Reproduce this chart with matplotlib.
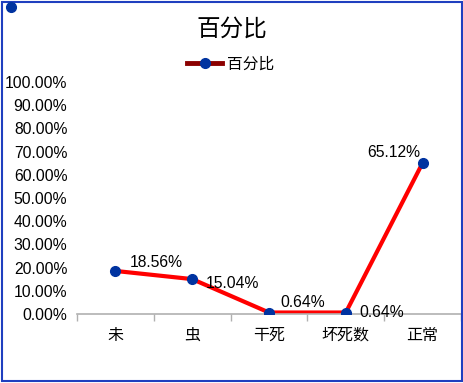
import matplotlib.pyplot as plt
from matplotlib.patches import Rectangle
from matplotlib.lines import Line2D

plt.rcParams['font.family'] = ['Liberation Sans', 'Noto Sans CJK SC', 'DejaVu Sans']

# data
categories = ['未', '虫', '干死', '坏死数', '正常']
values = [18.56, 15.04, 0.64, 0.64, 65.12]
labels = ['18.56%', '15.04%', '0.64%', '0.64%', '65.12%']
series_name = '百分比'

# label offsets in points (dx, dy, ha)
offsets = [(10, 0.5, 'left'), (10, -3, 'left'), (8, 2, 'left'), (10, 0, 'left'), (-2, 2, 'right')]

fig = plt.figure(figsize=(4.64, 3.83), dpi=100)
ax = fig.add_axes([77 / 464, 1 - 314 / 383, 384 / 464, 232 / 383])

x = range(len(categories))
ax.plot(x, values, color='#ff0000', lw=3, zorder=2)
ax.plot(x, values, ls='none', marker='o', ms=7, color='#0033a0', zorder=3)

# legend proxy: dark red line with blue marker
ax.plot([], [], color='#8b0000', lw=3.5, marker='o', ms=7, mfc='#0033a0', mec='#0033a0',
        label=series_name)
ax.legend(loc='upper center', bbox_to_anchor=(0.40, 1.17), frameon=False,
          fontsize=11.3, handlelength=2.2, handletextpad=0.3)

for i, v in enumerate(values):
    dx, dy, ha = offsets[i]
    ax.annotate(labels[i], (i, v), xytext=(dx, dy), textcoords='offset points',
                ha=ha, va='bottom' if dy > 0 else 'center', fontsize=11.3)

ax.set_xlim(-0.5, len(categories) - 0.5)
ax.set_ylim(0, 100)
ax.set_yticks(range(0, 101, 10))
ax.set_yticklabels(['%.2f%%' % t for t in range(0, 101, 10)], fontsize=11.3)
ax.tick_params(axis='y', length=0, pad=7)
ax.set_xticks(list(x))
ax.set_xticklabels(categories, fontsize=11.5)
ax.tick_params(axis='x', length=0, pad=10)
ax.set_xticks([i - 0.5 for i in range(len(categories) + 1)], minor=True)
ax.tick_params(axis='x', which='minor', length=5, color='#b0b0b0', width=1)

for s in ['top', 'right', 'left']:
    ax.spines[s].set_visible(False)
ax.spines['bottom'].set_color('#b0b0b0')
ax.spines['bottom'].set_linewidth(1.2)

fig.text(0.5, 1 - 30 / 383, series_name, ha='center', va='center', fontsize=17)

# outer blue frame
fig.patches.append(Rectangle((2 / 464, 2 / 383), 460 / 464, 379 / 383, transform=fig.transFigure,
                             fill=False, ec='#1f3fbf', lw=1.5))
fig.add_artist(Line2D([11 / 464], [1 - 7 / 383], marker='o', ms=7, color='#0033a0',
                      transform=fig.transFigure))

fig.savefig('out.png', dpi=100)
